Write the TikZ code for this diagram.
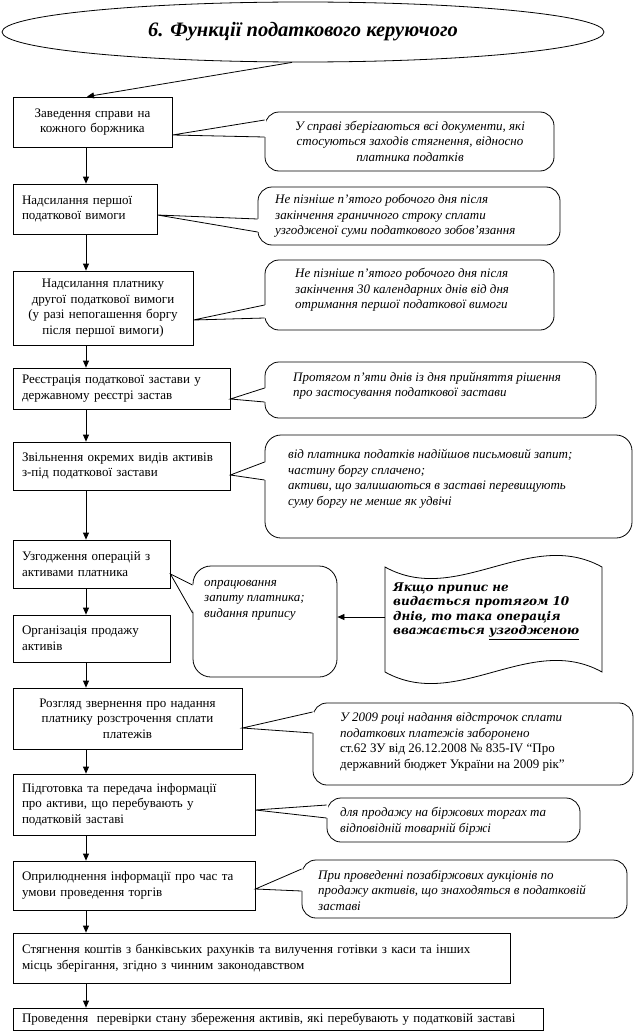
\documentclass[tikz,border=0pt]{standalone}
\usepackage{fontspec}
\setmainfont{Liberation Serif}
\newfontfamily\wavefont{DejaVu Serif}
\usetikzlibrary{arrows.meta,calc,shapes.geometric}
\newcommand\mkbox[7]{%
  \pgfmathsetmacro\mkbw{#4-#2}\pgfmathsetmacro\mkbh{#5-#3}\pgfmathsetmacro\mktw{#4-#2-18}%
  \pgfmathsetmacro\mkcx{(#2+#4)/2}\pgfmathsetmacro\mkcy{(#3+#5)/2}%
  \node[box, minimum width=\mkbw pt, minimum height=\mkbh pt, text width=\mktw pt, align=#6] (#1) at (\mkcx,\mkcy) {#7};}
\newcommand\mkcall[6]{%
  \pgfmathsetmacro\mkbw{#4-#2}\pgfmathsetmacro\mkbh{#5-#3}%
  \pgfmathsetmacro\mkcx{(#2+#4)/2}\pgfmathsetmacro\mkcy{(#3+#5)/2}%
  \node[callshape, rounded corners=#6pt, minimum width=\mkbw pt, minimum height=\mkbh pt] (#1) at (\mkcx,\mkcy) {};}
\newcommand\mktail[5]{%
  \fill[white] ($(#1.east |- 0,#2)+(1,0)$) -- ($(#3.west |- 0,#4)+(1.6,0)$) -- ($(#3.west |- 0,#5)+(1.6,0)$) -- cycle;
  \draw[thinline] (#3.west |- 0,#4) -- (#1.east |- 0,#2) -- (#3.west |- 0,#5);}
\begin{document}
\begin{tikzpicture}[x=1pt,y=-1pt,
  thinline/.style={line width=0.8pt, line join=miter},
  box/.style={draw, line width=0.8pt, inner xsep=0pt, inner ysep=0pt, font=\fontsize{13}{15.5}\selectfont},
  callshape/.style={draw, line width=0.8pt, inner sep=0pt},
  ctext/.style={font=\fontsize{13}{15.5}\selectfont\itshape, inner sep=0pt, align=left, anchor=west},
  arr/.style={-{Triangle[length=7pt,width=6pt]}, line width=0.8pt}]
\useasboundingbox (0,0) rectangle (638,1033);
\fill[white] (0,0) rectangle (638,1033);

% title
\node[draw, ellipse, line width=0.8pt, minimum width=602pt, minimum height=60pt, inner sep=0pt,
  font=\fontsize{20.5}{24}\selectfont\bfseries\itshape] (title) at (303,32) {6. Функції податкового керуючого};

% main boxes
\mkbox{b1}{13}{97}{172}{147}{center}{Заведення справи на\\кожного боржника}
\mkbox{b2}{13}{184}{157}{234}{left}{Надсилання першої\\податкової вимоги}
\mkbox{b3}{13}{271}{193}{345}{center}{Надсилання платнику\\другої податкової вимоги\\(у разі непогашення боргу\\після першої вимоги)}
\mkbox{b4}{13}{368}{230}{409}{left}{Реєстрація податкової застави у\\державному реєстрі застав}
\mkbox{b5}{13}{442}{230}{490}{left}{Звільнення окремих видів активів\\з-під податкової застави}
\mkbox{b6}{13}{540}{170}{588}{left}{Узгодження операцій з\\активами платника}
\mkbox{b7}{13}{615}{170}{662}{left}{Організація продажу\\активів}
\mkbox{b8}{13}{688}{242}{749}{center}{Розгляд звернення про надання\\платнику розстрочення сплати\\платежів}
\mkbox{b9}{13}{774}{255}{835}{left}{Підготовка та передача інформації\\про активи, що перебувають у\\податковій заставі}
\mkbox{b10}{13}{861}{255}{910}{left}{Оприлюднення інформації про час та\\умови проведення торгів}
\mkbox{b11}{13}{933}{510}{983}{left}{Стягнення коштів з банківських рахунків та вилучення готівки з каси та інших\\місць зберігання, згідно з чинним законодавством}
\mkbox{b12}{13}{1008}{543}{1030}{left}{Проведення\ \ перевірки стану збереження активів, які перебувають у податковій заставі}

% arrows down the column
\draw[arr] ($(title.south)+(-11,0)$) -- (b1.north -| 87,0);
\draw[arr] (b1.south -| 86,0) -- (b2.north -| 86,0);
\draw[arr] (b2.south -| 86,0) -- (b3.north -| 86,0);
\draw[arr] (b3.south -| 86,0) -- (b4.north -| 86,0);
\draw[arr] (b4.south -| 86,0) -- (b5.north -| 86,0);
\draw[arr] (b5.south -| 86,0) -- (b6.north -| 86,0);
\draw[arr] (b6.south -| 86,0) -- (b7.north -| 86,0);
\draw[arr] (b7.south -| 86,0) -- (b8.north -| 86,0);
\draw[arr] (b8.south -| 86,0) -- (b9.north -| 86,0);
\draw[arr] (b9.south -| 86,0) -- (b10.north -| 86,0);
\draw[arr] (b10.south -| 86,0) -- (b11.north -| 86,0);
\draw[arr] (b11.south -| 86,0) -- (b12.north -| 86,0);

% callouts
\mkcall{c1}{265}{112}{554}{171}{14}
\mktail{b1}{135}{c1}{120}{137}
\node[ctext, anchor=center, align=center] (t1) at (410,141) {У справі зберігаються всі документи, які\\стосуються заходів стягнення, відносно\\платника податків};

\mkcall{c2}{258}{187}{560}{245}{14}
\mktail{b2}{215}{c2}{219}{232}
\node[ctext] (t2) at (275,216) {Не пізніше п’ятого робочого дня після\\закінчення граничного строку сплати\\узгодженої суми податкового зобов’язання};

\mkcall{c3}{265}{260}{554}{330}{14}
\mktail{b3}{320}{c3}{305}{318}
\node[ctext] (t3) at (295,290) {Не пізніше п’ятого робочого дня після\\закінчення 30 календарних днів від дня\\отримання першої податкової вимоги};

\mkcall{c4}{265}{362}{596}{418}{14}
\mktail{b4}{399}{c4}{388}{402}
\node[ctext] (t4) at (293,386) {Протягом п’яти днів із дня прийняття рішення\\про застосування податкової застави};

\mkcall{c5}{265}{435}{632}{538}{16}
\mktail{b5}{475}{c5}{462}{480}
\node[ctext] (t5) at (288,479) {від платника податків надійшов письмовий запит;\\частину боргу сплачено;\\активи, що залишаються в заставі перевищують\\суму боргу не менше як удвічі};

\mkcall{c6}{193}{566}{337}{677}{18}
\mktail{b6}{574}{c6}{585}{613}
\node[ctext] (t6) at (204,600) {опрацювання\\запиту платника;\\видання припису};

% wave shape
\draw[thinline] (385,567) .. controls (457,607) and (530,527) .. (602,567) -- (602,672)
  .. controls (530,632) and (457,712) .. (385,672) -- cycle;
\coordinate (wl) at (385,617);
\node[inner sep=0pt, anchor=west, align=left, font=\wavefont\fontsize{12}{14.5}\selectfont\bfseries\itshape] (w) at (393,611)
  {Якщо припис не\\видається протягом 10\\днів, то така операція\\вважається \underline{узгодженою}};
\draw[arr] (wl) -- (c6.east |- wl);

\mkcall{c8}{313}{703}{633}{785}{14}
\mktail{b8}{728}{c8}{712}{733}
\node[ctext, font=\fontsize{13}{15.5}\selectfont] (t8) at (340,742) {\textit{У 2009 році надання відстрочок сплати}\\\textit{податкових платежів заборонено}\\ст.62 ЗУ від 26.12.2008 № 835-IV “Про\\державний бюджет України на 2009 рік”};

\mkcall{c9}{327}{798}{580}{842}{14}
\mktail{b9}{810}{c9}{805}{818}
\node[ctext] (t9) at (340,821) {для продажу на біржових торгах та\\відповідній товарній біржі};

\mkcall{c10}{302}{860}{627}{918}{14}
\mktail{b10}{889}{c10}{869}{891}
\node[ctext] (t10) at (318,890) {При проведенні позабіржових аукціонів по\\продажу активів, що знаходяться в податковій\\заставі};
\end{tikzpicture}
\end{document}
